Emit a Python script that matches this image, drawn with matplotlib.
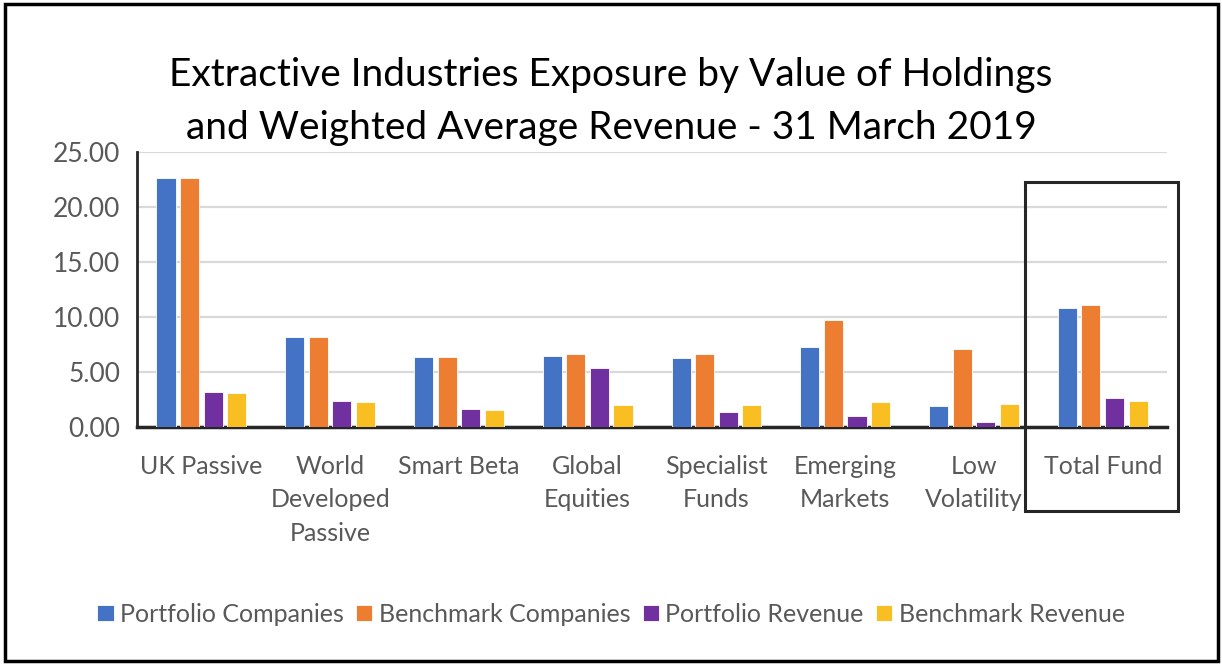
import numpy as np
import matplotlib
matplotlib.use("Agg")
import matplotlib.pyplot as plt
from matplotlib.patches import Rectangle

plt.rcParams['font.family'] = ['Lato', 'DejaVu Sans']

categories = ["UK Passive", "World\nDeveloped\nPassive", "Smart Beta", "Global\nEquities",
              "Specialist\nFunds", "Emerging\nMarkets", "Low\nVolatility", "Total Fund"]
portfolio_companies = [22.68, 8.22, 6.35, 6.47, 6.26, 7.29, 1.94, 10.86]
benchmark_companies = [22.68, 8.22, 6.35, 6.62, 6.62, 9.74, 7.05, 11.10]
portfolio_revenue = [3.18, 2.33, 1.63, 5.35, 1.33, 0.97, 0.45, 2.63]
benchmark_revenue = [3.08, 2.24, 1.51, 2.00, 2.00, 2.24, 2.06, 2.36]

series = [
    ("Portfolio Companies", portfolio_companies, "#4472C4"),
    ("Benchmark Companies", benchmark_companies, "#ED7D31"),
    ("Portfolio Revenue", portfolio_revenue, "#7030A0"),
    ("Benchmark Revenue", benchmark_revenue, "#F8BE22"),
]

fig = plt.figure(figsize=(12.22, 6.64), dpi=100)
ax = fig.add_axes([0.1121, 0.357, 0.843, 0.414])

x = np.arange(len(categories))
step = 0.183
width = 0.148
for i, (name, vals, col) in enumerate(series):
    ax.bar(x + (i - 1.5) * step, vals, width, color=col, label=name,
           edgecolor="white", linewidth=0.6, zorder=3)

ax.set_xlim(-0.5, len(categories) - 0.5)
ax.set_ylim(0, 25)
ax.set_yticks(np.arange(0, 26, 5))
ax.set_yticklabels([f"{v:.2f}" for v in np.arange(0, 26, 5)])
ax.set_xticks(x)
ax.set_xticklabels(categories, linespacing=1.55, va="top")
ax.tick_params(axis="x", length=0, pad=20, labelsize=18, labelcolor="#595959")
ax.tick_params(axis="y", length=0, pad=12, labelsize=19, labelcolor="#595959")
ax.grid(axis="y", color="#D9D9D9", linewidth=1.6, zorder=0)
for s in ["top", "right"]:
    ax.spines[s].set_visible(False)
ax.spines["left"].set_color("#262626")
ax.spines["left"].set_linewidth(2)
ax.spines["bottom"].set_color("#262626")
ax.spines["bottom"].set_linewidth(2.5)

fig.text(0.5, 0.847, "Extractive Industries Exposure by Value of Holdings\nand Weighted Average Revenue - 31 March 2019",
         ha="center", va="center", fontsize=28, color="black", linespacing=1.6)

ax.legend(loc="center", bbox_to_anchor=(0.5, 0.075), bbox_transform=fig.transFigure,
          ncol=4, frameon=False, fontsize=18, handlelength=0.65, handleheight=0.65,
          handletextpad=0.25, columnspacing=0.5, labelcolor="#595959")

# highlight box around Total Fund
fig.patches.append(Rectangle((0.8388, 0.2304), 0.1252, 0.4956, transform=fig.transFigure,
                             fill=False, edgecolor="#262626", linewidth=2.2))
# outer border
fig.patches.append(Rectangle((0.004, 0.004), 0.993, 0.99, transform=fig.transFigure,
                             fill=False, edgecolor="black", linewidth=2.5))

fig.savefig("out.png", dpi=100, facecolor="white")
